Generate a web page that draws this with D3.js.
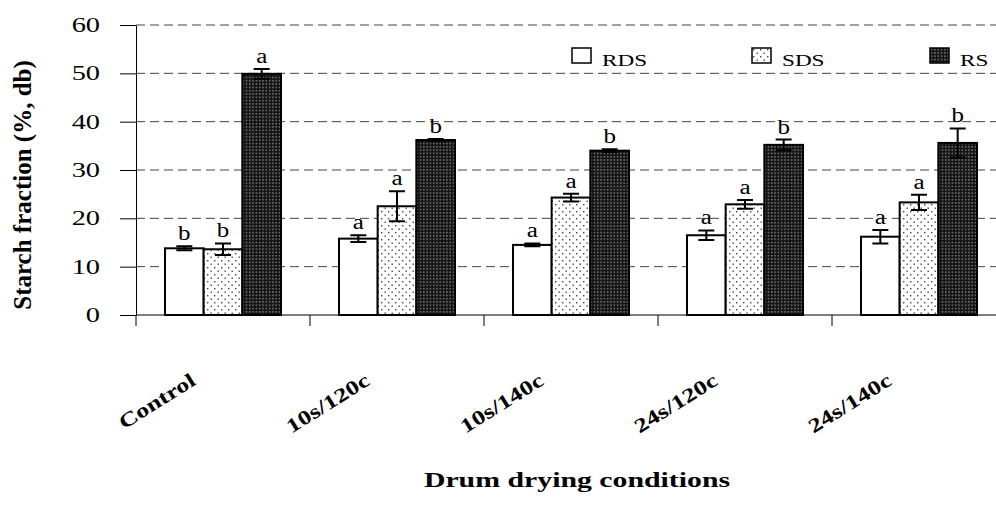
<!DOCTYPE html>
<html>
<head>
<meta charset="utf-8">
<script src="https://cdn.jsdelivr.net/npm/d3@7"></script>
<style>
  body { margin: 0; background: #fff; }
  svg { display: block; font-family: "Liberation Serif", "Times New Roman", serif; }
</style>
</head>
<body>
<svg id="chart" width="996" height="513"></svg>
<script>
// datos
var categories = ["Control", "10s/120c", "10s/140c", "24s/120c", "24s/140c"];
var series = ["RDS", "SDS", "RS"];
var rds = [13.8, 15.8, 14.5, 16.5, 16.2];
var rdsErr = [0.4, 0.7, 0.3, 1.0, 1.4];
var sds = [13.6, 22.5, 24.3, 22.9, 23.3];
var sdsErr = [1.2, 3.1, 0.8, 0.9, 1.6];
var rs = [49.9, 36.2, 34.0, 35.2, 35.6];
var rsErr = [1.0, 0.2, 0.3, 1.1, 3.0];
var rdsLetters = ["b", "a", "a", "a", "a"];
var sdsLetters = ["b", "a", "a", "a", "a"];
var rsLetters = ["a", "b", "b", "b", "b"];
var yTicks = [0, 10, 20, 30, 40, 50, 60];

var values = { RDS: rds, SDS: sds, RS: rs };
var errors = { RDS: rdsErr, SDS: sdsErr, RS: rsErr };
var letters = { RDS: rdsLetters, SDS: sdsLetters, RS: rsLetters };
var fills = { RDS: "#fff", SDS: "url(#dots)", RS: "url(#dense)" };

var svg = d3.select("#chart");
var mLeft = 136, mBottom = 315, mTop = 25, wide = 1.42;

// patrones de relleno
var defs = svg.append("defs");
var p1 = defs.append("pattern").attr("id", "dots").attr("patternUnits", "userSpaceOnUse")
  .attr("width", 7).attr("height", 7);
p1.append("rect").attr("width", 7).attr("height", 7).attr("fill", "#fff");
p1.append("rect").attr("x", 1).attr("y", 1).attr("width", 1.4).attr("height", 1.4).attr("fill", "#444");
p1.append("rect").attr("x", 4.5).attr("y", 4.5).attr("width", 1.4).attr("height", 1.4).attr("fill", "#444");
var p2 = defs.append("pattern").attr("id", "dense").attr("patternUnits", "userSpaceOnUse")
  .attr("width", 3.3).attr("height", 3.3);
p2.append("rect").attr("width", 3.3).attr("height", 3.3).attr("fill", "#161616");
p2.append("rect").attr("x", 1).attr("y", 1).attr("width", 1.2).attr("height", 1.2).attr("fill", "#aaa");

// escalas
var x = d3.scaleBand().domain(categories).range([mLeft, mLeft + 5 * 174]).padding(0);
var xs = d3.scaleBand().domain(series).range([0, x.bandwidth()]).paddingInner(0).paddingOuter(0.75);
var y = d3.scaleLinear().domain([0, 60]).range([mBottom, mTop]);

// líneas de rejilla
svg.append("g").selectAll("line").data(yTicks.filter(function(d) { return d > 0; }))
  .enter().append("line")
  .attr("x1", mLeft).attr("x2", 996)
  .attr("y1", function(d) { return y(d); }).attr("y2", function(d) { return y(d); })
  .attr("stroke", "#444").attr("stroke-width", 1).attr("stroke-dasharray", "9,5");

// eje Y
var yAxis = svg.append("g").attr("transform", "translate(" + mLeft + ",0)")
  .call(d3.axisLeft(y).tickValues(yTicks).tickSize(16).tickPadding(20).tickSizeOuter(0));
yAxis.select(".domain").attr("stroke", "#000");
yAxis.selectAll(".tick line").attr("stroke", "#000");
yAxis.selectAll("text").attr("font-size", 20).attr("font-family", "Liberation Serif").attr("fill", "#000")
  .attr("x", -36 / wide).attr("transform", "scale(" + wide + ",1)");

// barras
var groups = svg.append("g").selectAll("g").data(categories).enter().append("g")
  .attr("transform", function(c) { return "translate(" + x(c) + ",0)"; });

series.forEach(function(s) {
  groups.append("rect")
    .attr("x", xs(s)).attr("width", xs.bandwidth())
    .attr("y", function(c, i) { return y(values[s][i]); })
    .attr("height", function(c, i) { return y(0) - y(values[s][i]); })
    .attr("fill", fills[s]).attr("stroke", "#000").attr("stroke-width", 2);
});

// barras de error y letras
series.forEach(function(s) {
  var cx = xs(s) + xs.bandwidth() / 2;
  groups.append("path")
    .attr("d", function(c, i) {
      var v = values[s][i], e = errors[s][i];
      var y1 = y(v + e), y2 = y(v - e);
      return "M" + (cx - 8) + "," + y1 + "H" + (cx + 8) +
        "M" + cx + "," + y1 + "V" + y2 +
        "M" + (cx - 8) + "," + y2 + "H" + (cx + 8);
    })
    .attr("stroke", "#000").attr("stroke-width", 2).attr("fill", "none");
  groups.append("text")
    .attr("transform", function(c, i) {
      return "translate(" + cx + "," + (y(values[s][i] + errors[s][i]) - 6) + ") scale(1.25,1)";
    })
    .attr("text-anchor", "middle").attr("font-size", 20)
    .text(function(c, i) { return letters[s][i]; });
});

// eje X
svg.append("line").attr("x1", mLeft).attr("x2", 996).attr("y1", mBottom).attr("y2", mBottom)
  .attr("stroke", "#000").attr("stroke-width", 1);
svg.append("g").selectAll("line").data(categories).enter().append("line")
  .attr("x1", function(c) { return x(c); }).attr("x2", function(c) { return x(c); })
  .attr("y1", mBottom).attr("y2", mBottom + 11)
  .attr("stroke", "#000");

svg.append("g").selectAll("text").data(categories).enter().append("text")
  .attr("transform", function(c) {
    return "translate(" + (x(c) + x.bandwidth() / 2 - 26) + "," + 384 + ") rotate(-32) scale(1.3,1)";
  })
  .attr("text-anchor", "end").attr("font-weight", "bold").attr("font-size", 20)
  .text(function(c) { return c; });

// títulos
svg.append("text").attr("transform", "translate(577,487) scale(" + wide + ",1)").attr("text-anchor", "middle")
  .attr("font-weight", "bold").attr("font-size", 21).text("Drum drying conditions");
svg.append("text").attr("transform", "translate(31,185) rotate(-90)").attr("text-anchor", "middle")
  .attr("font-weight", "bold").attr("font-size", 25).text("Starch fraction (%, db)");

// leyenda
var legendX = [572, 752, 930];
var legend = svg.append("g").selectAll("g").data(series).enter().append("g")
  .attr("transform", function(s, i) { return "translate(" + legendX[i] + ",48)"; });
legend.append("rect").attr("width", 19).attr("height", 15)
  .attr("fill", function(s) { return fills[s]; }).attr("stroke", "#000").attr("stroke-width", 1.5);
legend.append("text").attr("transform", "translate(30,18) scale(1.45,1)").attr("font-size", 16)
  .text(function(s) { return s; });
</script>
</body>
</html>
